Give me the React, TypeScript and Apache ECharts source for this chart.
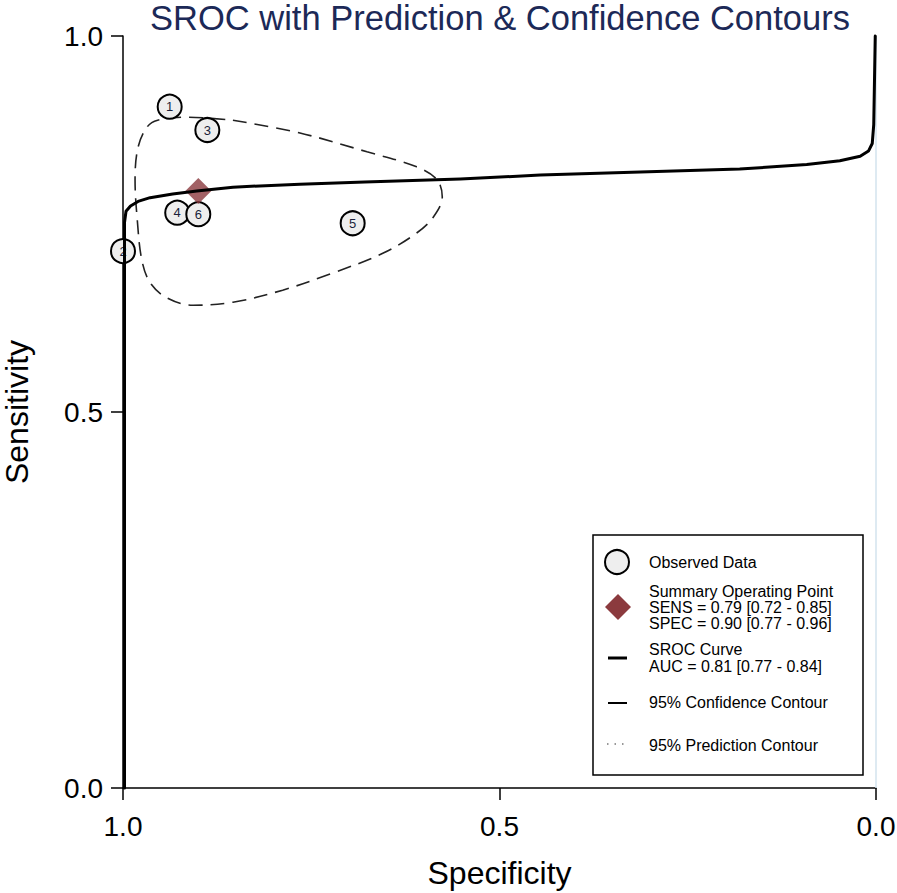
import React, { useEffect, useRef } from "react";
import * as echarts from "echarts";

const FONT = "'Liberation Sans', Arial, sans-serif";

// Observed studies
const studyLabels = ["1", "2", "3", "4", "5", "6"];
const studySpec = [0.938, 1.0, 0.888, 0.928, 0.695, 0.9];
const studySens = [0.906, 0.714, 0.875, 0.765, 0.751, 0.763];

// Summary operating point
const summarySpec = [0.9];
const summarySens = [0.794];

// SROC curve
const srocSpec = [0.998, 0.998, 0.996, 0.99, 0.98, 0.964, 0.934, 0.902, 0.854, 0.765, 0.679, 0.552, 0.446, 0.313, 0.181, 0.092, 0.048, 0.021, 0.01, 0.005, 0.003, 0.001];
const srocSens = [0.0, 0.752, 0.767, 0.774, 0.78, 0.785, 0.79, 0.794, 0.799, 0.803, 0.806, 0.81, 0.815, 0.819, 0.823, 0.829, 0.834, 0.84, 0.847, 0.857, 0.882, 1.0];

// 95% confidence contour
const confSpec = [0.854, 0.765, 0.676, 0.61, 0.583, 0.576, 0.588, 0.61, 0.655, 0.721, 0.788, 0.854, 0.907, 0.942, 0.964, 0.975, 0.981, 0.984, 0.98, 0.968, 0.954, 0.915, 0.854];
const confSens = [0.888, 0.871, 0.846, 0.826, 0.809, 0.786, 0.759, 0.738, 0.711, 0.685, 0.662, 0.646, 0.642, 0.652, 0.672, 0.702, 0.755, 0.809, 0.852, 0.879, 0.888, 0.892, 0.888];

const axisTicks = [0, 0.5, 1];

const titleText = "SROC with Prediction & Confidence Contours";
const legendObserved = "Observed Data";
const legendSummary = "Summary Operating Point\nSENS = 0.79 [0.72 - 0.85]\nSPEC = 0.90 [0.77 - 0.96]";
const legendSroc = "SROC Curve\nAUC = 0.81 [0.77 - 0.84]";
const legendConf = "95% Confidence Contour";
const legendPred = "95% Prediction Contour";

export default function App() {
  const ref = useRef<HTMLDivElement>(null);
  useEffect(() => {
    if (!ref.current) return;
    const chart = echarts.init(ref.current, undefined, { renderer: "svg" });
    const legendFont = `16px ${FONT}`;
    const option: any = {
      animation: false,
      backgroundColor: "#ffffff",
      title: {
        text: titleText,
        left: 150,
        top: 0,
        padding: 0,
        textStyle: { fontFamily: FONT, fontSize: 34.5, fontWeight: "normal", color: "#1c2957" },
      },
      grid: { left: 123, right: 21, top: 36, bottom: 105, containLabel: false, outerBoundsMode: "none" },
      xAxis: {
        type: "value",
        min: 0,
        max: 1,
        interval: 0.5,
        inverse: true,
        name: "Specificity",
        nameLocation: "middle",
        nameGap: 69,
        nameTextStyle: { fontFamily: FONT, fontSize: 32, color: "#000" },
        axisLine: { show: true, onZero: false, lineStyle: { color: "#000", width: 1.5 } },
        axisTick: { show: true, length: 12, lineStyle: { color: "#000", width: 1.5 } },
        axisLabel: {
          fontFamily: FONT,
          fontSize: 28,
          color: "#000",
          margin: 24,
          showMinLabel: true,
          showMaxLabel: true,
          formatter: (v: number) => (axisTicks.includes(v) ? v.toFixed(1) : ""),
        },
        splitLine: { show: false },
      },
      yAxis: {
        type: "value",
        min: 0,
        max: 1,
        interval: 0.5,
        name: "Sensitivity",
        nameLocation: "middle",
        nameGap: 90,
        nameTextStyle: { fontFamily: FONT, fontSize: 32, color: "#000" },
        axisLine: { show: true, onZero: false, lineStyle: { color: "#000", width: 1.5 } },
        axisTick: { show: true, length: 12, lineStyle: { color: "#000", width: 1.5 } },
        axisLabel: {
          fontFamily: FONT,
          fontSize: 28,
          color: "#000",
          margin: 20,
          showMinLabel: true,
          showMaxLabel: true,
          formatter: (v: number) => (axisTicks.includes(v) ? v.toFixed(1) : ""),
        },
        splitLine: { show: false },
      },
      series: [
        {
          name: "95% Confidence Contour",
          type: "line",
          data: confSpec.map((s, i) => [s, confSens[i]]),
          showSymbol: false,
          smooth: 0.35,
          clip: false,
          z: 2,
          lineStyle: { color: "#222", width: 1.6, type: [14, 8] },
          markLine: {
            silent: true,
            symbol: "none",
            label: { show: false },
            lineStyle: { color: "#d3e3ee", width: 1.5, type: "solid" },
            data: [{ xAxis: 0 }],
          },
        },
        {
          name: "Observed Data",
          type: "scatter",
          clip: false,
          z: 3,
          symbol: "circle",
          symbolSize: 24,
          itemStyle: { color: "#eeeeee", borderColor: "#000", borderWidth: 2, opacity: 1 },
          label: {
            show: true,
            position: "inside",
            formatter: (p: any) => p.name,
            fontFamily: FONT,
            fontSize: 13,
            color: "#1a1f3a",
          },
          data: studyLabels.map((n, i) => ({ name: n, value: [studySpec[i], studySens[i]] })),
        },
        {
          name: "Summary Operating Point",
          type: "scatter",
          clip: false,
          z: 4,
          symbol: "diamond",
          symbolSize: 26,
          itemStyle: { color: "#8b3a3e" },
          data: summarySpec.map((s, i) => [s, summarySens[i]]),
        },
        {
          name: "SROC Curve",
          type: "line",
          data: srocSpec.map((s, i) => [s, srocSens[i]]),
          showSymbol: false,
          smooth: false,
          clip: false,
          z: 5,
          lineStyle: { color: "#000", width: 3, join: "round", cap: "round" },
        },
      ],
      graphic: [
        {
          type: "rect",
          shape: { x: 593, y: 535, width: 270, height: 240 },
          style: { fill: "#fff", stroke: "#000", lineWidth: 1.5 },
          z: 10,
        },
        {
          type: "circle",
          shape: { cx: 617, cy: 562, r: 12 },
          style: { fill: "#eeeeee", stroke: "#000", lineWidth: 2 },
          z: 11,
        },
        {
          type: "text",
          x: 649,
          y: 562,
          z: 11,
          style: { text: legendObserved, font: legendFont, fill: "#000", verticalAlign: "middle", align: "left" },
        },
        {
          type: "polygon",
          shape: { points: [[618, 594], [631, 607], [618, 620], [605, 607]] },
          style: { fill: "#8b3a3e" },
          z: 11,
        },
        {
          type: "text",
          x: 649,
          y: 607.5,
          z: 11,
          style: { text: legendSummary, font: legendFont, lineHeight: 16, fill: "#000", verticalAlign: "middle", align: "left" },
        },
        {
          type: "line",
          shape: { x1: 608, y1: 658, x2: 627, y2: 658 },
          style: { stroke: "#000", lineWidth: 3 },
          z: 11,
        },
        {
          type: "text",
          x: 649,
          y: 658,
          z: 11,
          style: { text: legendSroc, font: legendFont, lineHeight: 17, fill: "#000", verticalAlign: "middle", align: "left" },
        },
        {
          type: "line",
          shape: { x1: 608, y1: 703, x2: 627, y2: 703 },
          style: { stroke: "#000", lineWidth: 2 },
          z: 11,
        },
        {
          type: "text",
          x: 649,
          y: 702,
          z: 11,
          style: { text: legendConf, font: legendFont, fill: "#000", verticalAlign: "middle", align: "left" },
        },
        {
          type: "line",
          shape: { x1: 607, y1: 744, x2: 628, y2: 744 },
          style: { stroke: "#777", lineWidth: 1.5, lineDash: [1.5, 6] },
          z: 11,
        },
        {
          type: "text",
          x: 649,
          y: 745,
          z: 11,
          style: { text: legendPred, font: legendFont, fill: "#000", verticalAlign: "middle", align: "left" },
        },
      ],
    };
    chart.setOption(option);
    return () => chart.dispose();
  }, []);
  return <div ref={ref} style={{ position: "absolute", left: 0, top: 0, width: 897, height: 893 }} />;
}
